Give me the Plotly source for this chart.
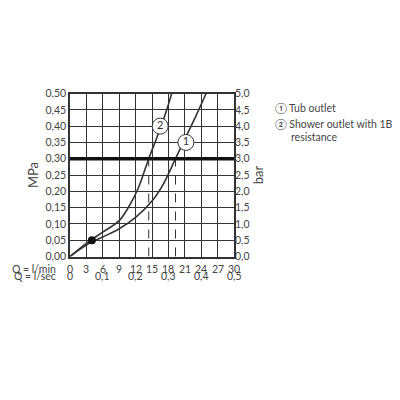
import plotly.graph_objects as go

# flow (l/min) vs pressure (MPa)
q1 = [0, 3, 6, 9, 12, 15, 17, 19.3, 21, 23, 24.9]
p1 = [0, 0.035, 0.06, 0.085, 0.12, 0.17, 0.22, 0.30, 0.36, 0.43, 0.50]
q2 = [0, 3, 6, 9, 11, 12.5, 14.4, 16, 17.5, 18.6]
p2 = [0, 0.04, 0.075, 0.11, 0.16, 0.21, 0.30, 0.37, 0.44, 0.50]
dot_q, dot_p = [4], [0.05]
work_p = 0.30
work_q = [14.4, 19.3]
lmin_ticks = [0, 3, 6, 9, 12, 15, 18, 21, 24, 27, 30]
lsec_ticks = ["0", "0,1", "0,2", "0,3", "0,4", "0,5"]
mpa_ticks = [i * 0.05 for i in range(11)]

ink = "#333333"
fnt = dict(family="Lato, DejaVu Sans", size=10.5, color="#444444")

fig = go.Figure()
fig.add_trace(go.Scatter(x=q1, y=p1, mode="lines", line=dict(color=ink, width=1.6, shape="spline")))
fig.add_trace(go.Scatter(x=q2, y=p2, mode="lines", line=dict(color=ink, width=1.6, shape="spline")))
for q in work_q:
    fig.add_trace(go.Scatter(x=[q, q], y=[0, work_p], mode="lines",
                             line=dict(color=ink, width=1, dash="dash")))
fig.add_trace(go.Scatter(x=[0, 30], y=[work_p, work_p], mode="lines", line=dict(color="#111", width=3.5)))
fig.add_trace(go.Scatter(x=dot_q, y=dot_p, mode="markers", marker=dict(color="#111", size=8)))
# circled labels
fig.add_trace(go.Scatter(x=[16.5, 21.2], y=[0.40, 0.35], mode="markers+text", text=["2", "1"],
                         marker=dict(size=16, color="white", line=dict(color=ink, width=1)),
                         textfont=dict(family="Lato", size=11, color=ink)))

fig.update_layout(
    width=400, height=400, showlegend=False, paper_bgcolor="white", plot_bgcolor="white",
    margin=dict(l=0, r=0, t=0, b=0), font=fnt,
    xaxis=dict(domain=[0.155, 0.565], range=[0, 30], tickvals=lmin_ticks, showticklabels=False,
               showgrid=True, gridcolor=ink, gridwidth=1, zeroline=False,
               showline=True, mirror=True, linecolor=ink, linewidth=1.5),
    yaxis=dict(domain=[0.375, 0.795], range=[0, 0.5], tickvals=mpa_ticks,
               ticktext=[f"{v:.2f}".replace(".", ",") for v in mpa_ticks],
               showgrid=True, gridcolor=ink, gridwidth=1, zeroline=False,
               showline=True, mirror=True, linecolor=ink, linewidth=1.5,
               title=dict(text="MPa", standoff=4)),
    yaxis2=dict(overlaying="y", side="right", range=[0, 5], tickvals=[i * 0.5 for i in range(11)],
                ticktext=[f"{i*0.5:.1f}".replace(".", ",") for i in range(11)],
                showgrid=False, zeroline=False, title=dict(text="bar", standoff=4)),
)
fig.add_trace(go.Scatter(x=[0], y=[0], yaxis="y2", mode="markers", marker=dict(opacity=0)))

ann = [dict(x=(58 - 8) / 400, y=263, xref="paper", text="Q = l/min", xanchor="right"),
       dict(x=(58 - 8) / 400, y=278, xref="paper", text="Q = l/sec", xanchor="right")]
for t in lmin_ticks:
    ann.append(dict(x=t, y=263, xref="x", text=str(t)))
for i, t in enumerate(lsec_ticks):
    ann.append(dict(x=i * 6, y=278, xref="x", text=t))
ann += [dict(x=(273 - 8) / 400, y=89, xref="paper", text="① Tub outlet", xanchor="left"),
        dict(x=(273 - 8) / 400, y=105, xref="paper", text="② Shower outlet with 1B-", xanchor="left"),
        dict(x=(289 - 8) / 400, y=119, xref="paper", text="resistance", xanchor="left")]
for a in ann:
    a["y"] = 1 - a["y"] / 400
    fig.add_annotation(yref="paper", showarrow=False, font=fnt, **a)

fig.write_html("out.html")
